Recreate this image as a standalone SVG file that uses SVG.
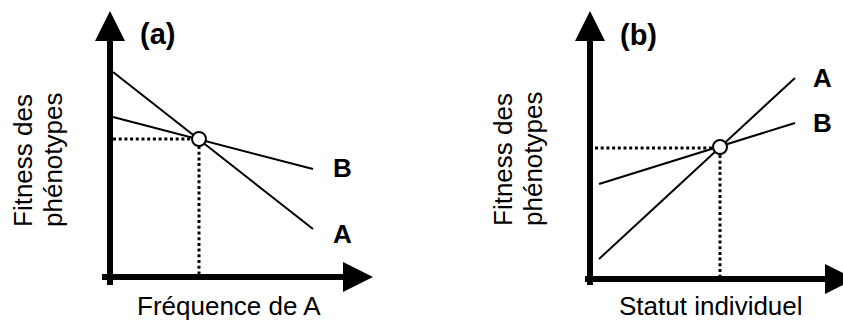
<svg xmlns="http://www.w3.org/2000/svg" width="843" height="322" viewBox="0 0 843 322">
<style>
.axis{stroke:#000;stroke-width:6;fill:none}
.head{fill:#000;stroke:none}
.curve{stroke:#000;stroke-width:2;fill:none}
.dot{stroke:#000;stroke-width:3;stroke-dasharray:3 2.7;fill:none}
.pt{fill:#fff;stroke:#000;stroke-width:2}
.lbl{font-family:"Liberation Sans",Arial,sans-serif;font-size:26px;fill:#000}
.bold{font-family:"Liberation Sans",Arial,sans-serif;font-size:26px;font-weight:bold;fill:#000}
.title{font-family:"Liberation Sans",Arial,sans-serif;font-size:29px;font-weight:bold;fill:#000}
</style>
<g id="panel-a">
  <g id="axes-a">
    <line class="axis" x1="110" y1="285" x2="110" y2="38"/>
    <polygon class="head" points="110,11 95,41 125,41"/>
    <line class="axis" x1="102" y1="277" x2="346" y2="277"/>
    <polygon class="head" points="373,277 343,262 343,292"/>
  </g>
  <g id="connectors-a">
    <line class="dot" x1="113" y1="139" x2="192" y2="139"/>
    <line class="dot" x1="199" y1="146" x2="199" y2="274"/>
    <line class="curve" x1="113" y1="72" x2="313" y2="229"/>
    <line class="curve" x1="113" y1="117" x2="313" y2="169"/>
  </g>
  <g id="point-a"><circle class="pt" cx="199" cy="139" r="7"/></g>
  <g id="labels-a">
    <text class="title" x="140" y="44">(a)</text>
    <text class="bold" x="333" y="177">B</text>
    <text class="bold" x="333" y="243">A</text>
    <text class="lbl" x="137" y="315">Fréquence de A</text>
    <text class="lbl" transform="rotate(-90)" x="-227" y="32">Fitness des</text>
    <text class="lbl" transform="rotate(-90)" x="-227" y="62">phénotypes</text>
  </g>
</g>
<g id="panel-b">
  <g id="axes-b">
    <line class="axis" x1="590" y1="285" x2="590" y2="38"/>
    <polygon class="head" points="590,11 575,41 605,41"/>
    <line class="axis" x1="585" y1="279" x2="828" y2="279"/>
    <polygon class="head" points="855,279 825,264 825,294"/>
  </g>
  <g id="connectors-b">
    <line class="dot" x1="595" y1="148" x2="713" y2="148"/>
    <line class="dot" x1="720" y1="155" x2="720" y2="276"/>
    <line class="curve" x1="599" y1="259" x2="795" y2="78"/>
    <line class="curve" x1="599" y1="184" x2="795" y2="123"/>
  </g>
  <g id="point-b"><circle class="pt" cx="720" cy="147" r="7"/></g>
  <g id="labels-b">
    <text class="title" x="620" y="45">(b)</text>
    <text class="bold" x="813" y="87">A</text>
    <text class="bold" x="813" y="132">B</text>
    <text class="lbl" x="619" y="315">Statut individuel</text>
    <text class="lbl" transform="rotate(-90)" x="-226" y="512">Fitness des</text>
    <text class="lbl" transform="rotate(-90)" x="-226" y="542">phénotypes</text>
  </g>
</g>
</svg>
